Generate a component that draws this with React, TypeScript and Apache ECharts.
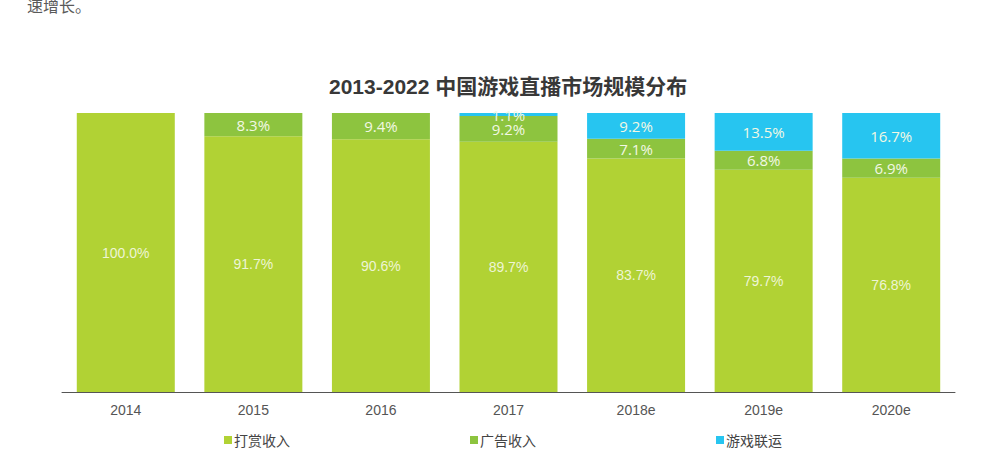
import React, { useEffect, useRef } from "react";
import * as echarts from "echarts";

const categories = ["2014", "2015", "2016", "2017", "2018e", "2019e", "2020e"];
const tipping = [100.0, 91.7, 90.6, 89.7, 83.7, 79.7, 76.8];
const advertising = [null, 8.3, 9.4, 9.2, 7.1, 6.8, 6.9];
const gameJoint = [null, null, null, 1.1, 9.2, 13.5, 16.7];
const seriesNames = ["打赏收入", "广告收入", "游戏联运"];
const colors = ["#b1d234", "#8dc43f", "#27c5f0"];
const titleText = "2013-2022 中国游戏直播市场规模分布";
const topText = "速增长。";

export default function App() {
  const ref = useRef<HTMLDivElement>(null);
  useEffect(() => {
    document.body.style.margin = "0";
    const chart = echarts.init(ref.current!, null, { renderer: "svg" });
    const labelFmt = (p: any) => (p.value == null ? "" : Number(p.value).toFixed(1) + "%");
    const upperLabel = {
      show: true,
      position: "inside",
      formatter: labelFmt,
      color: "#f2f8e4",
      fontSize: 15,
      fontFamily: "Open Sans, Noto Sans, sans-serif",
    };
    chart.setOption({
      animation: false,
      color: colors,
      title: {
        text: titleText,
        left: 324,
        top: 71,
        textStyle: {
          fontSize: 21,
          fontWeight: "bold",
          color: "#383838",
          fontFamily: "Liberation Sans, Noto Sans CJK SC, sans-serif",
        },
      },
      graphic: [
        {
          type: "text",
          left: 27,
          top: -3,
          style: {
            text: topText,
            fontSize: 16,
            fill: "#5a5a5a",
            fontFamily: "Noto Sans CJK SC, sans-serif",
          },
        },
      ],
      legend: [
        { data: [seriesNames[0]], left: 219, top: 428 },
        { data: [seriesNames[1]], left: 465, top: 428 },
        { data: [seriesNames[2]], left: 711, top: 428 },
      ].map((l) => ({
        ...l,
        icon: "rect",
        itemWidth: 8,
        itemHeight: 8,
        itemGap: 2,
        textStyle: {
          fontSize: 14,
          color: "#444",
          padding: [0, 0, 0, -3],
          fontFamily: "Noto Sans CJK SC, sans-serif",
        },
      })),
      grid: { left: 62, right: 47, top: 113, bottom: 78 },
      xAxis: {
        type: "category",
        data: categories,
        axisTick: { show: false },
        axisLine: { lineStyle: { color: "#555", width: 1 } },
        axisLabel: {
          color: "#555",
          fontSize: 14,
          margin: 11,
          fontFamily: "Liberation Sans, Arial, sans-serif",
        },
      },
      yAxis: {
        type: "value",
        min: 0,
        max: 100,
        show: false,
        splitLine: { show: false },
      },
      series: [
        {
          name: seriesNames[0],
          type: "bar",
          stack: "total",
          barWidth: 98,
          data: tipping,
          label: {
            show: true,
            position: "inside",
            formatter: labelFmt,
            color: "#eef5d4",
            fontSize: 14,
            fontFamily: "Liberation Sans, Arial, sans-serif",
          },
        },
        {
          name: seriesNames[1],
          type: "bar",
          stack: "total",
          barWidth: 98,
          data: advertising,
          label: upperLabel,
        },
        {
          name: seriesNames[2],
          type: "bar",
          stack: "total",
          barWidth: 98,
          data: gameJoint,
          label: upperLabel,
        },
      ],
    });
    return () => chart.dispose();
  }, []);
  return <div ref={ref} style={{ width: 1002, height: 470 }} />;
}
